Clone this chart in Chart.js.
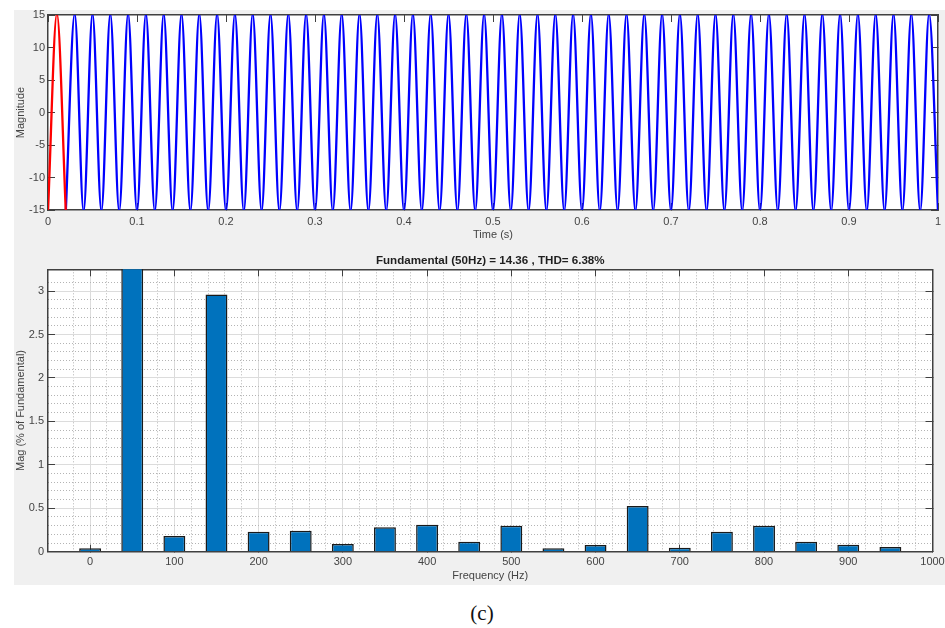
<!DOCTYPE html>
<html>
<head>
<meta charset="utf-8">
<script src="https://cdn.jsdelivr.net/npm/chart.js@4.4.1/dist/chart.umd.min.js"></script>
<style>
  html, body { margin:0; padding:0; background:#fff; }
  body { width:945px; height:628px; position:relative; overflow:hidden; }
  #panel { position:absolute; left:14px; top:10px; width:931px; height:575px; background:#f0f0f0; }
  .plot { position:absolute; left:0; width:945px; }
  #cap { position:absolute; left:432px; width:100px; top:601px; line-height:24px; text-align:center;
         font:21px "Liberation Serif", "Times New Roman", serif; color:#111; }
</style>
</head>
<body>
<div id="panel"></div>
<div class="plot" style="top:0;height:250px"><canvas id="wave"></canvas></div>
<div class="plot" style="top:250px;height:340px"><canvas id="fft"></canvas></div>
<div id="cap">(c)</div>
<script>
// waveform samples (peaks/troughs of the 50 Hz signal, one every 10 ms)
const sampleStep = 0.01;
const windowStart = 0;      // cycle analysed by the FFT (red)
const windowWave = [-15.2, 15.2, -15.2];
const restStart = 0.02;     // remainder of the record (blue)
const restWave = [
  -15.2, 15.2, -15.2, 15.2, -15.2, 15.2, -15.2, 15.2, -15.2, 15.2,
  -15.2, 15.2, -15.2, 15.2, -15.2, 15.2, -15.2, 15.2, -15.2, 15.2,
  -15.2, 15.2, -15.2, 15.2, -15.2, 15.2, -15.2, 15.2, -15.2, 15.2,
  -15.2, 15.2, -15.2, 15.2, -15.2, 15.2, -15.2, 15.2, -15.2, 15.2,
  -15.2, 15.2, -15.2, 15.2, -15.2, 15.2, -15.2, 15.2, -15.2, 15.2,
  -15.2, 15.2, -15.2, 15.2, -15.2, 15.2, -15.2, 15.2, -15.2, 15.2,
  -15.2, 15.2, -15.2, 15.2, -15.2, 15.2, -15.2, 15.2, -15.2, 15.2,
  -15.2, 15.2, -15.2, 15.2, -15.2, 15.2, -15.2, 15.2, -15.2, 15.2,
  -15.2, 15.2, -15.2, 15.2, -15.2, 15.2, -15.2, 15.2, -15.2, 15.2,
  -15.2, 15.2, -15.2, 15.2, -15.2, 15.2, -15.2, 15.2, -15.2
];

// harmonic spectrum, % of fundamental
const harmFreq = [0, 50, 100, 150, 200, 250, 300, 350, 400, 450, 500, 550, 600, 650, 700, 750, 800, 850, 900, 950];
const harmMag  = [0.04, 100, 0.18, 2.96, 0.23, 0.24, 0.09, 0.28, 0.31, 0.115, 0.30, 0.04, 0.077, 0.525, 0.046, 0.23, 0.30, 0.115, 0.08, 0.054];
const fftTitle = 'Fundamental (50Hz) = 14.36 , THD= 6.38%';

const AXIS = '#404040';
const MAJOR = '#dcdcdc';
const MINOR = '#b4b4b4';
const NONE = 'rgba(0,0,0,0)';

Chart.defaults.font.family = 'Arial, "Liberation Sans", Helvetica, sans-serif';
Chart.defaults.font.size = 11;
Chart.defaults.color = '#444';

const toPts = (t0, vals) => vals.map((v, i) => ({x: t0 + i * sampleStep, y: v}));
const plain = v => String(v);

// fixed axis boxes; drop the label overhang so plot edges stay put
const noPad = s => { s.paddingLeft = s.paddingRight = s.paddingTop = s.paddingBottom = 0; };
const fitH = h => s => { s.height = h; noPad(s); };
const fitW = w => s => { s.width = w; noPad(s); };

// white plot area on the grey figure
const plotBg = {
  id: 'plotBg',
  beforeDraw(chart){
    const {ctx, chartArea: a} = chart;
    ctx.save(); ctx.fillStyle = '#fff'; ctx.fillRect(a.left, a.top, a.width, a.height); ctx.restore();
  }
};

// inward tick marks, matlab style
const tickGrid = extra => Object.assign({drawOnChartArea:false, tickLength:-7, tickColor:AXIS, tickWidth:1}, extra);
const frame = {color:AXIS, width:1.5};

new Chart(document.getElementById('wave'), {
  type:'line',
  data:{datasets:[
    {data:toPts(windowStart, windowWave), borderColor:'#ff0000', borderWidth:2.3, pointRadius:0, cubicInterpolationMode:'monotone'},
    {data:toPts(restStart, restWave), borderColor:'#0000ff', borderWidth:2.3, pointRadius:0, cubicInterpolationMode:'monotone'}
  ]},
  options:{
    animation:false, responsive:true, maintainAspectRatio:false,
    layout:{padding:{top:15, right:7, left:0, bottom:0}},
    plugins:{legend:{display:false}, tooltip:{enabled:false}},
    scales:{
      x:{type:'linear', min:0, max:1, ticks:{stepSize:0.1, padding:12.5, callback:plain}, grid:tickGrid(), border:frame,
         title:{display:true, text:'Time (s)', padding:{top:0, bottom:8.4}}, afterFit:fitH(40)},
      xTop:{type:'linear', position:'top', min:0, max:1, ticks:{stepSize:0.1, display:false}, grid:tickGrid(), border:frame,
         afterFit:fitH(0)},
      y:{min:-15, max:15, ticks:{stepSize:5, padding:10, callback:plain}, grid:tickGrid(), border:frame,
         title:{display:true, text:'Magnitude', padding:{top:14.4, bottom:0}}, afterFit:fitW(48)},
      yRight:{position:'right', min:-15, max:15, ticks:{stepSize:5, display:false}, grid:tickGrid(), border:frame,
         afterFit:fitW(0)}
    }
  },
  plugins:[plotBg]
});

const isMult = (v, step) => Math.abs(v / step - Math.round(v / step)) < 1e-6;

new Chart(document.getElementById('fft'), {
  type:'bar',
  data:{datasets:[{
    data:harmFreq.map((f, i) => ({x:f, y:harmMag[i]})),
    backgroundColor:'#0072bd', borderColor:'#1a1a1a', borderWidth:1.5,
    barPercentage:0.52, categoryPercentage:1
  }]},
  options:{
    animation:false, responsive:true, maintainAspectRatio:false,
    layout:{padding:{top:0, right:12.5, left:0, bottom:0}},
    plugins:{
      legend:{display:false}, tooltip:{enabled:false},
      title:{display:true, text:fftTitle, fullSize:false, color:'#1f1f1f', font:{size:11.6, weight:'bold'}, padding:{top:4, bottom:1.4}}
    },
    scales:{
      x:{type:'linear', min:-50, max:1000, offset:false,
         ticks:{stepSize:100, padding:10.4, callback:plain},
         afterBuildTicks:s => { s.ticks = s.ticks.filter(t => t.value >= 0); },
         grid:{offset:false, color:c => (c.tick && c.tick.value >= 1000) ? NONE : MAJOR, tickLength:-7, tickColor:AXIS, tickWidth:1},
         border:frame,
         title:{display:true, text:'Frequency (Hz)', padding:{top:0, bottom:7.4}},
         afterFit:fitH(38.3)},
      xMinor:{type:'linear', position:'bottom', min:-50, max:1000, offset:false,
         ticks:{stepSize:20, display:false},
         grid:{offset:false, drawTicks:false, color:c => (!c.tick || isMult(c.tick.value, 100) || c.tick.value <= -50 || c.tick.value >= 1000) ? NONE : MINOR},
         border:{display:false, dash:[1, 2]},
         afterFit:fitH(0)},
      xTop:{type:'linear', position:'top', min:-50, max:1000, offset:false,
         ticks:{stepSize:100, display:false},
         afterBuildTicks:s => { s.ticks = s.ticks.filter(t => t.value >= 0); },
         grid:tickGrid({offset:false}), border:frame,
         afterFit:fitH(0)},
      y:{min:0, max:3.25,
         ticks:{stepSize:0.5, padding:11, callback:plain},
         afterBuildTicks:s => { s.ticks = s.ticks.filter(t => t.value <= 3); },
         grid:{color:c => (c.tick && c.tick.value === 0) ? NONE : MAJOR, tickLength:-7, tickColor:AXIS, tickWidth:1},
         border:frame,
         title:{display:true, text:'Mag (% of Fundamental)', padding:{top:14.4, bottom:0}},
         afterFit:fitW(48)},
      yMinor:{position:'left', min:0, max:3.25,
         ticks:{stepSize:0.1, display:false},
         grid:{drawTicks:false, color:c => (!c.tick || isMult(c.tick.value, 0.5) || c.tick.value >= 3.25) ? NONE : MINOR},
         border:{display:false, dash:[1, 2]},
         afterFit:fitW(0)},
      yRight:{position:'right', min:0, max:3.25,
         ticks:{stepSize:0.5, display:false},
         afterBuildTicks:s => { s.ticks = s.ticks.filter(t => t.value <= 3); },
         grid:tickGrid(), border:frame,
         afterFit:fitW(0)}
    }
  },
  plugins:[plotBg]
});
</script>
</body>
</html>
